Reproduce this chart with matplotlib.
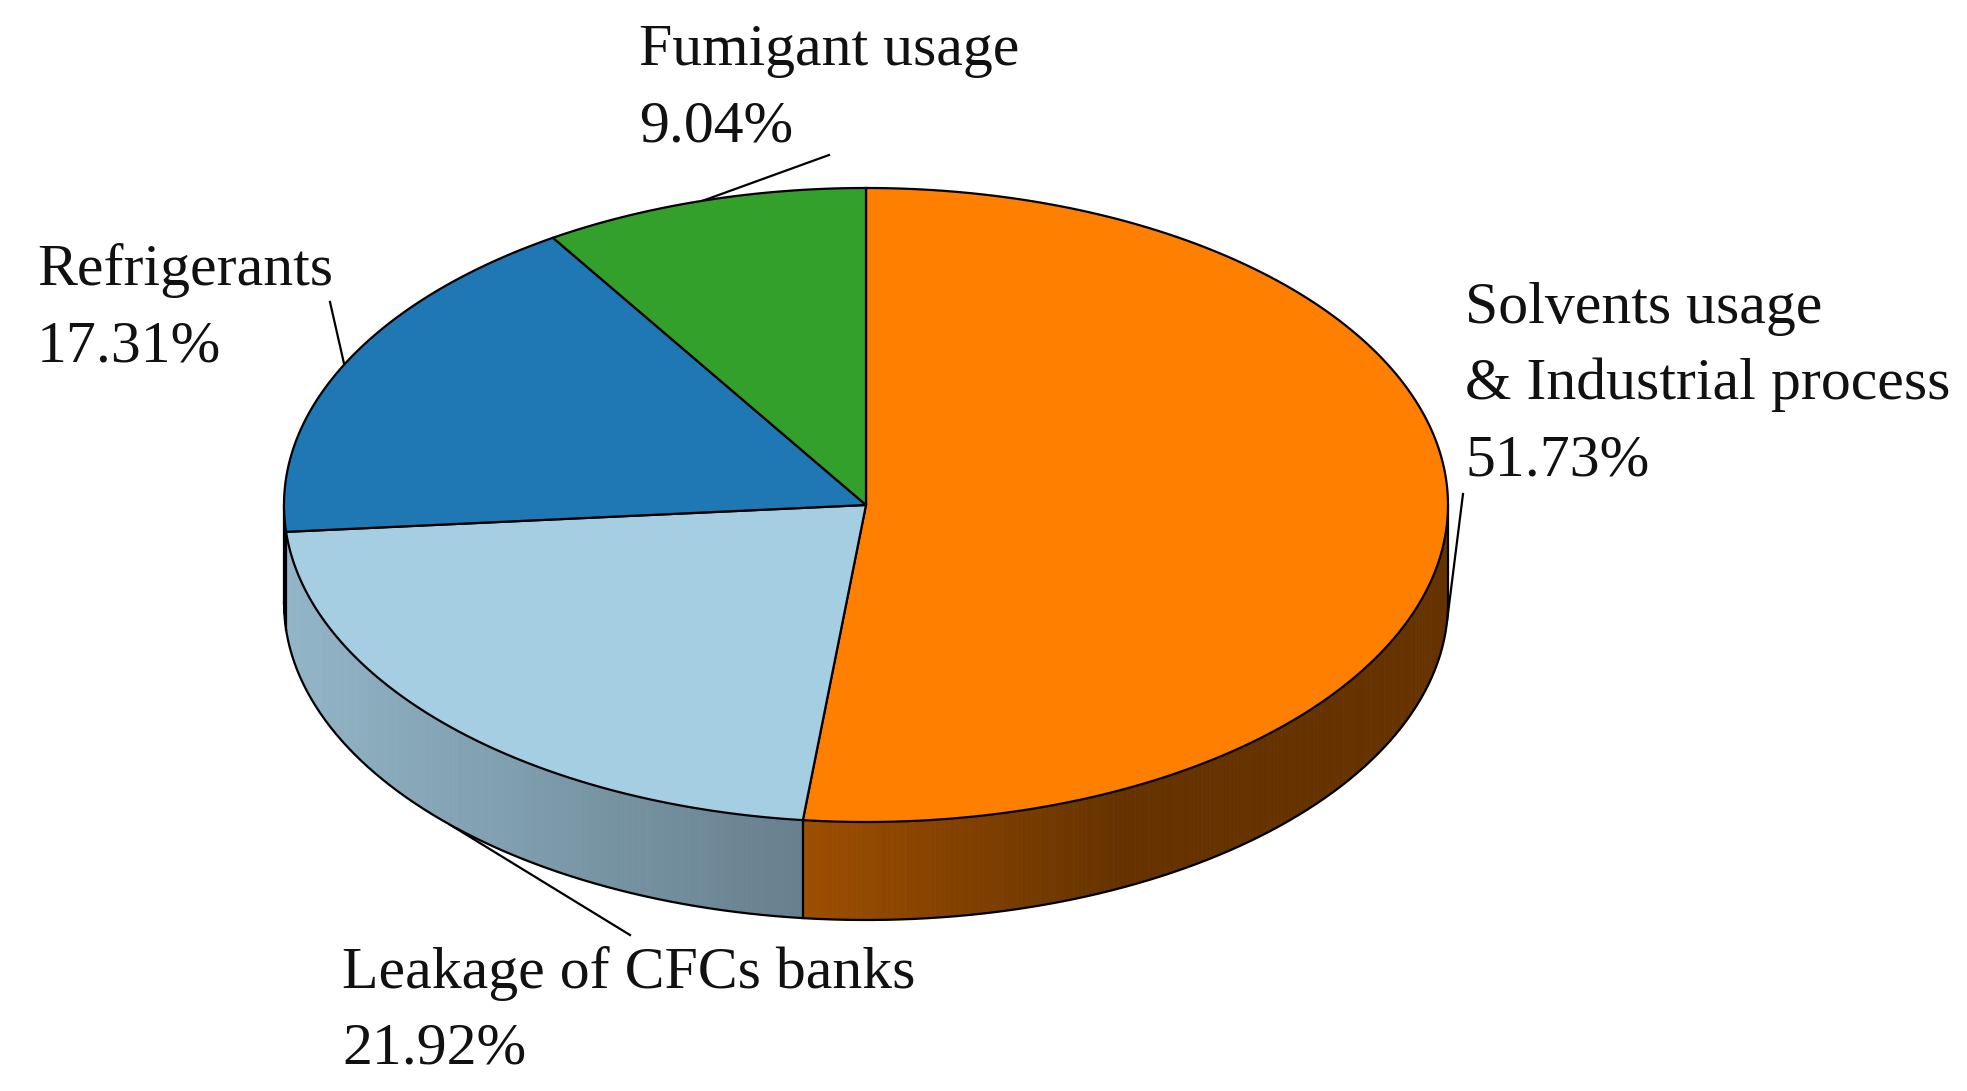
import numpy as np
import matplotlib.pyplot as plt
from matplotlib.patches import Polygon
from matplotlib.collections import PolyCollection
from matplotlib.colors import to_rgb

# data
labels = ["Solvents usage\n& Industrial process", "Leakage of CFCs banks", "Refrigerants", "Fumigant usage"]
shares = [51.73, 21.92, 17.31, 9.04]
colors = ["#FF7F00", "#A6CEE3", "#1F78B4", "#33A02C"]

# layout (pixels of the 1967x1091 canvas)
W, H = 1967, 1091
cx, cy = 866, 505
rx, ry = 582, 317
depth = 98
label_pos = [(1465, 323), (342, 988), (37, 285), (639, 65)]
leader_start = [(1463, 494), (630, 935), (330, 302), (829, 155)]
line_step = 76

plt.rcParams['font.family'] = ['Liberation Serif', 'DejaVu Serif']

fig = plt.figure(figsize=(W / 100, H / 100), dpi=100)
ax = fig.add_axes([0, 0, 1, 1])
ax.set_xlim(0, W)
ax.set_ylim(H, 0)
ax.axis('off')


def ell(t, dy=0.0):
    return cx + rx * np.cos(t), cy - ry * np.sin(t) + dy


def shade(x):
    # darker to the right, like the lit side wall in the original
    return np.interp(x, [285, 800, 1120, 1449], [0.88, 0.62, 0.40, 0.40])


fracs = np.array(shares) / sum(shares)
ends = np.pi / 2 - 2 * np.pi * np.cumsum(fracs)
starts = ends + 2 * np.pi * fracs

# side wall (front half only)
for s, e, c in zip(starts, ends, colors):
    lo, hi = max(e, -np.pi), min(s, 0.0)
    if lo >= hi:
        continue
    t = np.linspace(lo, hi, 200)
    x, y = ell(t)
    quads, cols = [], []
    base = np.array(to_rgb(c))
    for i in range(len(t) - 1):
        quads.append([(x[i], y[i]), (x[i + 1], y[i + 1]),
                      (x[i + 1], y[i + 1] + depth), (x[i], y[i] + depth)])
        cols.append(base * shade((x[i] + x[i + 1]) / 2))
    ax.add_collection(PolyCollection(quads, facecolors=cols, edgecolors=cols,
                                     linewidths=0.6, zorder=1))

# outline of the wall
t = np.linspace(-np.pi, 0, 400)
bx, by = ell(t, depth)
ax.plot(bx, by, color='black', lw=1.6, zorder=2)
for a in [-np.pi, 0.0] + [e for e in ends if -np.pi < e < 0]:
    x0, y0 = ell(a)
    ax.plot([x0, x0], [y0, y0 + depth], color='black', lw=1.6, zorder=2)

# top face
for s, e, c in zip(starts, ends, colors):
    t = np.linspace(s, e, 200)
    x, y = ell(t)
    pts = np.column_stack([np.r_[cx, x], np.r_[cy, y]])
    ax.add_patch(Polygon(pts, closed=True, facecolor=c, edgecolor='black',
                         lw=1.6, zorder=3))

# labels and leader lines (leaders run behind the pie)
for lab, v, (lx, ly), (sx, sy), s, e in zip(labels, shares, label_pos,
                                            leader_start, starts, ends):
    lines = lab.split('\n') + [f"{v:.2f}%"]
    for k, txt in enumerate(lines):
        ax.text(lx, ly + k * line_step, txt, fontsize=43, color='#111111',
                ha='left', va='baseline', zorder=5)
    mid = (s + e) / 2
    dy = depth if np.sin(mid) < 0 else 0.0
    ax_, ay_ = ell(mid, dy)
    ax.plot([sx, ax_], [sy, ay_], color='black', lw=1.6, zorder=0)

fig.savefig('out.png', dpi=100, facecolor='white')
